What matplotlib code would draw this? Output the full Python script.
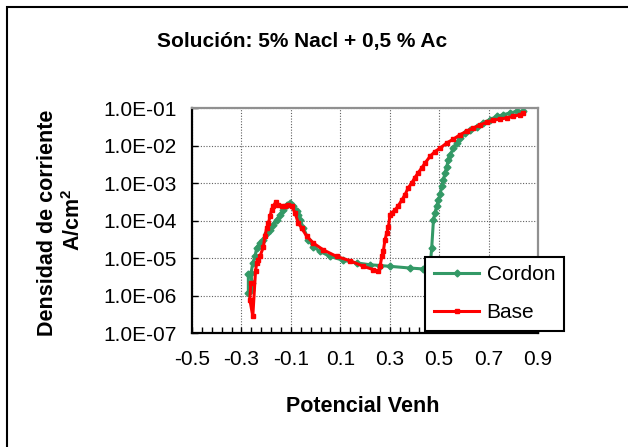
import numpy as np
import matplotlib
matplotlib.use("Agg")
import matplotlib.pyplot as plt
from matplotlib.ticker import FixedLocator, FuncFormatter, LogLocator, NullFormatter
from matplotlib.patches import Rectangle

plt.rcParams['font.family'] = ['Liberation Sans', 'DejaVu Sans']
plt.rcParams['axes.unicode_minus'] = False
plt.rcParams['mathtext.fontset'] = 'custom'
plt.rcParams['mathtext.rm'] = 'Liberation Sans'
plt.rcParams['mathtext.bf'] = 'Liberation Sans:bold'

# Datos (potencial V, densidad de corriente A/cm2)
cordon_v = [-0.272, -0.272, -0.262, -0.258, -0.261, -0.254, -0.245, -0.238, -0.225, -0.211,
            -0.198, -0.184, -0.171, -0.157, -0.144, -0.130, -0.117, -0.103, -0.090, -0.076,
            -0.070, -0.063, -0.049, -0.029, -0.009, 0.018, 0.058, 0.112, 0.166, 0.220,
            0.261, 0.301, 0.382, 0.436, 0.463, 0.470, 0.477, 0.483, 0.490, 0.497,
            0.504, 0.510, 0.517, 0.524, 0.531, 0.537, 0.544, 0.558, 0.571, 0.585,
            0.605, 0.625, 0.652, 0.679, 0.706, 0.733, 0.760, 0.787, 0.814, 0.841]
cordon_i = [3.8e-6, 1.2e-6, 1.4e-6, 2.1e-6, 4.0e-6, 7.4e-6, 1.1e-5, 1.9e-5, 2.5e-5, 3.1e-5,
            4.7e-5, 5.6e-5, 7.8e-5, 1.05e-4, 1.4e-4, 1.95e-4, 2.6e-4, 2.95e-4, 2.5e-4, 1.75e-4,
            1.4e-4, 1.05e-4, 6.3e-5, 3.1e-5, 2.0e-5, 1.5e-5, 1.1e-5, 8.7e-6, 7.4e-6, 6.6e-6,
            6.3e-6, 6.0e-6, 5.4e-6, 5.1e-6, 5.4e-6, 1.9e-5, 1.05e-4, 1.6e-4, 2.4e-4, 3.5e-4,
            5.0e-4, 8.1e-4, 1.2e-3, 1.9e-3, 2.75e-3, 4.2e-3, 5.6e-3, 8.5e-3, 1.2e-2, 1.6e-2,
            2.1e-2, 2.6e-2, 3.2e-2, 4.0e-2, 4.9e-2, 6.0e-2, 6.6e-2, 7.4e-2, 8.1e-2, 8.1e-2]

base_v = [-0.262, -0.266, -0.254, -0.243, -0.238, -0.231, -0.225, -0.211, -0.205, -0.198,
          -0.191, -0.184, -0.178, -0.171, -0.160, -0.151, -0.137, -0.124, -0.110, -0.097,
          -0.083, -0.070, -0.056, -0.036, -0.009, 0.031, 0.085, 0.139, 0.193, 0.234,
          0.254, 0.261, 0.268, 0.274, 0.281, 0.288, 0.295, 0.301, 0.308, 0.322,
          0.335, 0.349, 0.362, 0.375, 0.389, 0.402, 0.416, 0.429, 0.443, 0.463,
          0.483, 0.504, 0.531, 0.558, 0.585, 0.612, 0.639, 0.666, 0.693, 0.719,
          0.746, 0.773, 0.800, 0.827, 0.841]
base_i = [2.2e-6, 7.8e-7, 2.8e-7, 4.5e-6, 7.4e-6, 9.0e-6, 1.1e-5, 2.0e-5, 3.8e-5, 6.3e-5,
          8.5e-5, 1.3e-4, 1.95e-4, 2.4e-4, 3.2e-4, 2.6e-4, 2.4e-4, 2.5e-4, 2.6e-4, 2.4e-4,
          1.6e-4, 8.5e-5, 6.3e-5, 3.8e-5, 2.5e-5, 1.65e-5, 1.1e-5, 8.5e-6, 6.0e-6, 4.9e-6,
          4.4e-6, 6.0e-6, 1.1e-5, 1.5e-5, 3.1e-5, 4.6e-5, 6.9e-5, 1.4e-4, 1.6e-4, 1.9e-4,
          2.5e-4, 3.5e-4, 4.9e-4, 7.4e-4, 1.0e-3, 1.4e-3, 1.9e-3, 2.5e-3, 3.4e-3, 5.1e-3,
          6.9e-3, 8.5e-3, 1.17e-2, 1.48e-2, 1.95e-2, 2.4e-2, 2.95e-2, 3.5e-2, 4.2e-2, 4.7e-2,
          5.1e-2, 5.4e-2, 6.0e-2, 6.6e-2, 7.4e-2]

x_ticks = [-0.5, -0.3, -0.1, 0.1, 0.3, 0.5, 0.7, 0.9]
y_ticks = [1e-7, 1e-6, 1e-5, 1e-4, 1e-3, 1e-2, 1e-1]

fig = plt.figure(figsize=(6.28, 4.47), dpi=100)
ax = fig.add_axes([192 / 628, 1 - 333 / 447, 346 / 628, 225 / 447])

ax.plot(cordon_v, cordon_i, color='#339966', lw=2.2, marker='D', ms=3.5,
        mec='#339966', label='Cordon')
ax.plot(base_v, base_i, color='#ff0000', lw=2.2, marker='s', ms=3.5,
        mec='#ff0000', label='Base')

ax.set_yscale('log')
ax.set_xlim(-0.5, 0.9)
ax.set_ylim(1e-7, 1e-1)

ax.xaxis.set_major_locator(FixedLocator(x_ticks))
ax.xaxis.set_minor_locator(FixedLocator(np.arange(-0.5, 0.91, 0.04)))
ax.xaxis.set_major_formatter(FuncFormatter(lambda v, p: f"{v:.1f}"))
ax.yaxis.set_major_locator(FixedLocator(y_ticks))
ax.yaxis.set_minor_locator(LogLocator(base=10, subs=np.arange(2, 10)))
ax.yaxis.set_major_formatter(FuncFormatter(lambda v, p: f"{v:.1E}"))
ax.yaxis.set_minor_formatter(NullFormatter())

ax.tick_params(which='both', direction='in', labelsize=15, colors='black')
ax.tick_params(axis='x', which='major', length=4, width=1, pad=12)
ax.tick_params(axis='x', which='minor', length=4, width=1)
ax.tick_params(axis='y', which='major', length=4, width=1, pad=11)
ax.tick_params(axis='y', which='minor', length=2.5, width=0.8)

ax.grid(True, which='major', color='#606060', linestyle=(0, (1, 1.5)), lw=0.8)
for s in ['left', 'bottom']:
    ax.spines[s].set_color('black')
    ax.spines[s].set_linewidth(1.6)
for s in ['top', 'right']:
    ax.spines[s].set_color('#909090')
    ax.spines[s].set_linewidth(1.6)

leg = ax.legend(loc='lower left', bbox_to_anchor=(0.673, 0.009), borderaxespad=0,
                fontsize=15, handlelength=2.2, handletextpad=0.35, borderpad=0.42,
                labelspacing=0.9, fancybox=False, framealpha=1, edgecolor='black')
leg.get_frame().set_linewidth(1.5)

fig.text(302 / 628, 1 - 42 / 447, 'Solución: 5% Nacl + 0,5 % Ac', ha='center', va='center',
         fontsize=15, fontweight='bold')
fig.text(363 / 628, 1 - 407 / 447, 'Potencial Venh', ha='center', va='center',
         fontsize=15.5, fontweight='bold')
fig.text(48 / 628, 1 - 223 / 447, 'Densidad de corriente', ha='center', va='center',
         rotation=90, fontsize=15.5, fontweight='bold')
fig.text(74 / 628, 1 - 220 / 447, r'A/cm$^{\mathbf{2}}$', ha='center', va='center',
         rotation=90, fontsize=15.5, fontweight='bold')

fig.add_artist(Rectangle((7 / 628, -0.05), 1.0, 1 - 7 / 447 + 0.05, transform=fig.transFigure,
                         fill=False, edgecolor='black', lw=1.5))

fig.savefig('out.png', dpi=100)
